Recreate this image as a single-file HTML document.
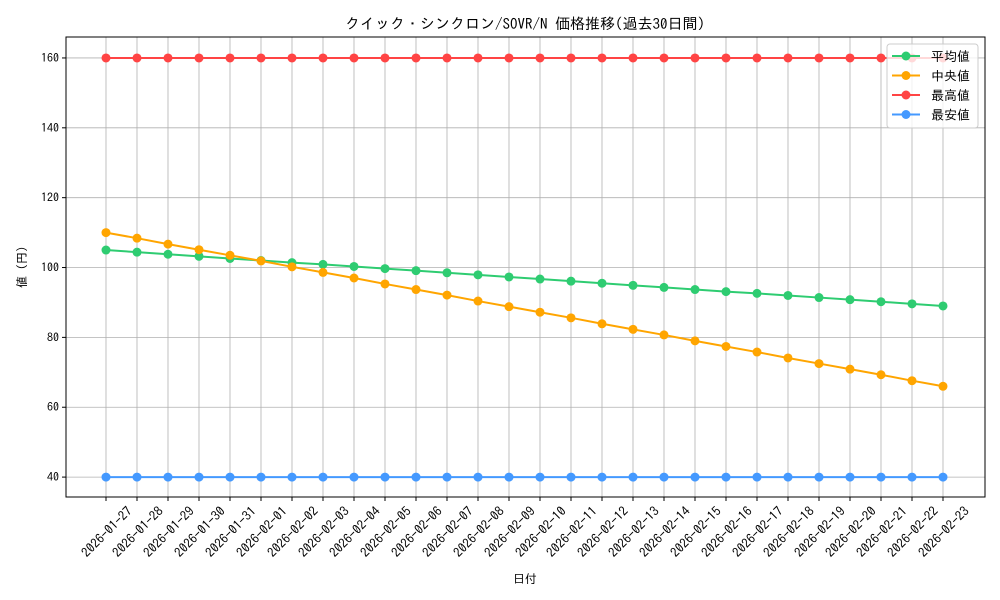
<!DOCTYPE html>
<html><head><meta charset="utf-8"><style>
body{margin:0;background:#fff}
svg{font-family:"IPAGothic","Noto Sans CJK JP",monospace;display:block}
</style></head><body>
<svg id="chart" width="1000" height="600" xmlns="http://www.w3.org/2000/svg">
<rect width="1000" height="600" fill="#fff"/>
<text x="525" y="29" font-size="15" text-anchor="middle">クイック・シンクロン/SOVR/N 価格推移(過去30日間)</text>
<g id="grid"></g>
<g id="series"></g>
<rect x="66" y="37" width="919" height="460" fill="none" stroke="#000" stroke-width="1"/>
<text x="525" y="583" font-size="12" text-anchor="middle">日付</text>
<text transform="translate(26,267) rotate(-90)" font-size="12" text-anchor="middle">値 (円)</text>
<g id="legend"></g>
</svg>
<script>
const dates=["2026-01-27","2026-01-28","2026-01-29","2026-01-30","2026-01-31","2026-02-01","2026-02-02","2026-02-03","2026-02-04","2026-02-05","2026-02-06","2026-02-07","2026-02-08","2026-02-09","2026-02-10","2026-02-11","2026-02-12","2026-02-13","2026-02-14","2026-02-15","2026-02-16","2026-02-17","2026-02-18","2026-02-19","2026-02-20","2026-02-21","2026-02-22","2026-02-23"];
const meanVals=[105.0,104.4,103.8,103.2,102.6,102.0,101.4,100.9,100.3,99.7,99.1,98.5,97.9,97.3,96.7,96.1,95.5,94.9,94.3,93.7,93.1,92.6,92.0,91.4,90.8,90.2,89.6,89.0];
const medianVals=[110.0,108.4,106.7,105.1,103.5,101.9,100.2,98.6,97.0,95.3,93.7,92.1,90.4,88.8,87.2,85.6,83.9,82.3,80.7,79.0,77.4,75.8,74.1,72.5,70.9,69.3,67.6,66.0];
const highVals=[160,160,160,160,160,160,160,160,160,160,160,160,160,160,160,160,160,160,160,160,160,160,160,160,160,160,160,160];
const lowVals=[40,40,40,40,40,40,40,40,40,40,40,40,40,40,40,40,40,40,40,40,40,40,40,40,40,40,40,40];
const yTicks=[40,60,80,100,120,140,160];
const seriesNames=["平均値","中央値","最高値","最安値"];
const NS="http://www.w3.org/2000/svg";
const L=66,R=985,T=37,B=497,yMin=34.3,yMax=166;
const n=dates.length;
const x0=106,x1=943;
const xs=i=>x0+i*(x1-x0)/(n-1);
const ys=v=>B-(v-yMin)/(yMax-yMin)*(B-T);
function mk(t,a,p){const e=document.createElementNS(NS,t);for(const k in a)e.setAttribute(k,a[k]);p.appendChild(e);return e;}
const grid=document.getElementById('grid');
yTicks.forEach(v=>{
  const g=mk('line',{x1:L,x2:R,y1:ys(v),y2:ys(v),stroke:'#b0b0b0','stroke-width':0.8},grid);
  
  
  mk('line',{x1:L-4,x2:L,y1:ys(v),y2:ys(v),stroke:'#000'},grid);
  const t=mk('text',{x:L-7,y:ys(v)+4,'font-size':12,'text-anchor':'end'},grid);t.textContent=v;
  
  
});
dates.forEach((d,i)=>{
  const x=xs(i);
  const g=mk('line',{x1:x,x2:x,y1:T,y2:B,stroke:'#b0b0b0','stroke-width':0.8},grid);
  
  
  mk('line',{x1:x,x2:x,y1:B,y2:B+4,stroke:'#000'},grid);
  const ax=x+27,ay=B+15;
  const t=mk('text',{x:ax,y:ay,'font-size':13,'text-anchor':'end',transform:`rotate(-45 ${ax} ${ay})`},grid);t.textContent=d;
  
  
});
const sg=document.getElementById('series');
const cols=['#2ecc71','#ffa500','#ff4444','#4499ff'];
[meanVals,medianVals,highVals,lowVals].forEach((vals,k)=>{
  const p=mk('polyline',{points:vals.map((v,i)=>xs(i)+','+ys(v)).join(' '),fill:'none',stroke:cols[k],'stroke-width':2},sg);
  
  
  vals.forEach((v,i)=>{
    const c=mk('circle',{cx:xs(i),cy:ys(v),r:4.5,fill:cols[k]},sg);
    
    
  });
});
const lg=document.getElementById('legend');
const box=mk('rect',{x:887,y:44,width:91,height:84,rx:3,fill:'#fff','fill-opacity':0.8,stroke:'#ccc'},lg);


seriesNames.forEach((s,k)=>{
  const y=56+k*19.5;
  mk('line',{x1:892,x2:920,y1:y,y2:y,stroke:cols[k],'stroke-width':2},lg);
  mk('circle',{cx:906,cy:y,r:4.5,fill:cols[k]},lg);
  const t=mk('text',{x:931,y:y+5,'font-size':13},lg);t.textContent=s;
  
  
});
</script>
</body></html>
